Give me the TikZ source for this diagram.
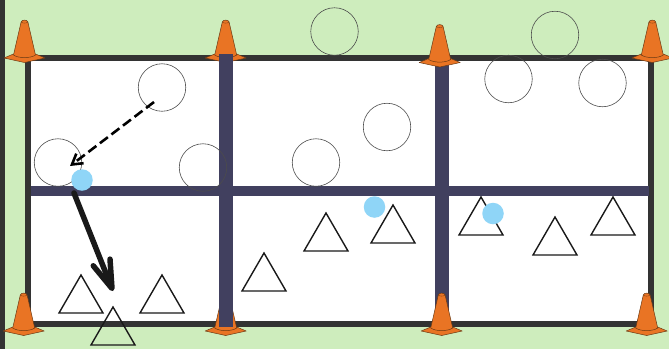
\documentclass[tikz,border=0pt]{standalone}
\usetikzlibrary{arrows.meta}
\definecolor{grass}{HTML}{CEEDBD}
\definecolor{fence}{HTML}{333333}
\definecolor{lane}{HTML}{41405F}
\definecolor{conefill}{HTML}{E97424}
\definecolor{coneline}{HTML}{6B3A14}
\definecolor{ballblue}{HTML}{8FD5F7}
\tikzset{
  cone/.pic={
    \filldraw[fill=conefill,draw=coneline,line width=.5pt,line join=round] (-20.5,-1) -- (-11,-5) -- (11,-5) -- (20.5,-1) -- (0,3.5) -- cycle;
    \filldraw[fill=conefill,draw=coneline,line width=.5pt,line join=round] (-11,-4) -- (-3.4,-37) .. controls (-3,-39.5) and (3,-39.5) .. (3.4,-37) -- (11,-4) .. controls (6,-.5) and (-6,-.5) .. cycle;
    \draw[coneline,line width=.3pt] (-3.4,-37) .. controls (-2,-35.5) and (2,-35.5) .. (3.4,-37);
  },
  spot/.style={circle,draw=black!70,line width=.6pt,minimum size=47.5pt,inner sep=0pt},
  tri/.style={draw=black!90,line width=1.4pt,line join=miter},
  player/.style={circle,fill=ballblue,minimum size=21.5pt,inner sep=0pt}
}
\begin{document}
\begin{tikzpicture}[x=1pt,y=-1pt]
\useasboundingbox (0,0) rectangle (669,349);
\fill[grass] (0,0) rectangle (669,349);
\fill[fence] (0,0) rectangle (5,349);
\fill[white] (28,58) rectangle (650.5,323.7);
% fence
\draw[fence,line width=6pt] (28,58) rectangle (650.5,323.7);
% lanes
\fill[lane] (435,58) rectangle (449.3,327);
\fill[lane] (31,185.5) rectangle (649,196);
% cones
\path (24.5,59) pic {cone};
\path (225.7,59) pic {cone};
\path (439.7,63.5) pic {cone};
\path (652.3,59) pic {cone};
\path (23.7,332) pic {cone};
\path (225.7,332) pic {cone};
\path (441.7,332) pic {cone};
\path (646.7,332) pic {cone};
\fill[lane] (218.5,54) rectangle (233,327);
% circles
\node[spot] (c1) at (162,87.5) {};
\node[spot] (c2) at (58,162.5) {};
\node[spot] (c3) at (203,167.5) {};
\node[spot] (c4) at (316,162.5) {};
\node[spot] (c5) at (387,127) {};
\node[spot] (c6) at (334.5,31.5) {};
\node[spot] (c7) at (508.5,79) {};
\node[spot] (c8) at (555,35) {};
\node[spot] (c9) at (602.5,83) {};
% triangles
\draw[tri] (59,313) -- (81,275) -- (103,313) -- cycle;
\draw[tri] (140,313) -- (162,275) -- (184,313) -- cycle;
\draw[tri] (91,345) -- (113,307) -- (135,345) -- cycle;
\draw[tri] (242,291) -- (264,253) -- (286,291) -- cycle;
\draw[tri] (304,251) -- (326,213) -- (348,251) -- cycle;
\draw[tri] (371,243) -- (393,205) -- (415,243) -- cycle;
\draw[tri] (459,235) -- (481,197) -- (503,235) -- cycle;
\draw[tri] (533,255) -- (555,217) -- (577,255) -- cycle;
\draw[tri] (591,235) -- (613,197) -- (635,235) -- cycle;
% players
\node[player] (p1) at (82,180) {};
\node[player] (p2) at (374.5,207) {};
\node[player] (p3) at (493,213.5) {};
% runs
\coordinate (s1) at (154,102);
\coordinate (s2) at (74,193);
\coordinate (e1) at (70,166);
\coordinate (e2) at (113,291);
\draw[black,line width=2.6pt,dash pattern=on 10pt off 4.5pt,-{Straight Barb[length=10pt,width=12pt]}] (s1) -- (e1);
\draw[black!90,line width=5.5pt,line cap=round,-{Straight Barb[length=28pt,width=18pt,round]}] (s2) -- (e2);
\end{tikzpicture}
\end{document}
